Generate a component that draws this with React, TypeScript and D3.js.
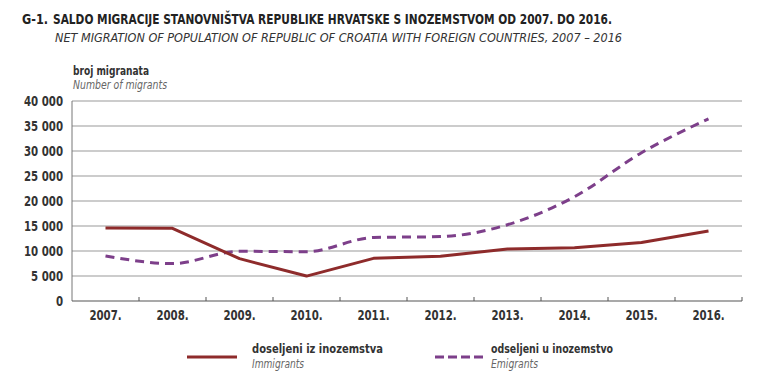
import React from 'react';
import * as d3 from 'd3';

const years = ['2007.', '2008.', '2009.', '2010.', '2011.', '2012.', '2013.', '2014.', '2015.', '2016.'];
const immigrants = [14622, 14541, 8468, 4985, 8534, 8959, 10378, 10638, 11706, 13985];
const emigrants = [9002, 7488, 9940, 9860, 12699, 12877, 15262, 20858, 29651, 36436];
const yTicks = [0, 5000, 10000, 15000, 20000, 25000, 30000, 35000, 40000];

const W = 764;
const H = 386;
const plot = { left: 72, right: 742, top: 101, bottom: 301 };
const font = '"Liberation Sans Narrow", "DejaVu Sans Condensed", "Liberation Sans", sans-serif';
const immColor = '#8e2b2b';
const emiColor = '#7d3f8a';
const squeeze = 0.84;

const fmt = (v: number) => (v >= 1000 ? `${Math.floor(v / 1000)} ${String(v % 1000).padStart(3, '0')}` : `${v}`);

export default function App() {
  const x = d3.scaleBand<string>().domain(years).range([plot.left, plot.right]);
  const y = d3.scaleLinear().domain([0, 40000]).range([plot.bottom, plot.top]);
  const cx = (i: number) => (x(years[i]) as number) + x.bandwidth() / 2;

  const immLine = d3
    .line<number>()
    .x((_, i) => cx(i))
    .y((d) => y(d));
  const emiLine = d3
    .line<number>()
    .x((_, i) => cx(i))
    .y((d) => y(d))
    .curve(d3.curveMonotoneX);

  const tickXs = years.map((yr) => (x(yr) as number) + x.bandwidth()).slice(0, -1);
  tickXs.push(plot.right);

  return (
    <svg width={W} height={H} style={{ position: 'absolute', left: 0, top: 0, background: '#fff' }} fontFamily={font}>
      <text x={22} y={24} fontSize={14} fontWeight="bold" fill="#222" textLength={26} lengthAdjust="spacingAndGlyphs">G-1.</text>
      <text x={53} y={24} fontSize={14} fontWeight="bold" fill="#222" textLength={559} lengthAdjust="spacingAndGlyphs">
        SALDO MIGRACIJE STANOVNIŠTVA REPUBLIKE HRVATSKE S INOZEMSTVOM OD 2007. DO 2016.
      </text>
      <text x={55} y={42} fontSize={13} fontStyle="italic" fill="#333" textLength={567} lengthAdjust="spacingAndGlyphs">
        NET MIGRATION OF POPULATION OF REPUBLIC OF CROATIA  WITH FOREIGN COUNTRIES, 2007 – 2016
      </text>
      <text x={73} y={75} fontSize={13} fontWeight="bold" fill="#333" textLength={76} lengthAdjust="spacingAndGlyphs">broj migranata</text>
      <text x={73} y={89} fontSize={12.5} fontStyle="italic" fill="#666" textLength={94} lengthAdjust="spacingAndGlyphs">Number of migrants</text>

      {yTicks.map((t) => (
        <g key={t}>
          {t > 0 && <line x1={plot.left} x2={plot.right} y1={y(t)} y2={y(t)} stroke="#9a9a9a" strokeWidth={1.2} />}
          <text
            transform={`translate(63,${y(t) + 5}) scale(${squeeze},1)`}
            fontSize={13.5}
            fontWeight="bold"
            fill="#333"
            textAnchor="end"
          >
            {fmt(t)}
          </text>
        </g>
      ))}
      <line x1={plot.left} x2={plot.left} y1={plot.top} y2={plot.bottom} stroke="#777" strokeWidth={1} />
      <line x1={plot.left} x2={plot.right} y1={plot.bottom} y2={plot.bottom} stroke="#555" strokeWidth={1.2} />
      {tickXs.map((tx, i) => (
        <line key={i} x1={tx} x2={tx} y1={plot.bottom} y2={plot.bottom - 4} stroke="#555" strokeWidth={1} />
      ))}
      {years.map((yr, i) => (
        <text
          key={yr}
          transform={`translate(${cx(i)},320) scale(${squeeze},1)`}
          fontSize={13.5}
          fontWeight="bold"
          fill="#333"
          textAnchor="middle"
        >
          {yr}
        </text>
      ))}

      <path d={emiLine(emigrants) as string} fill="none" stroke={emiColor} strokeWidth={3} strokeDasharray="9 6" />
      <path d={immLine(immigrants) as string} fill="none" stroke={immColor} strokeWidth={3} strokeLinejoin="round" />

      <line x1={187} x2={237} y1={357} y2={357} stroke={immColor} strokeWidth={3} />
      <text x={252} y={353} fontSize={12.5} fontWeight="bold" fill="#333" textLength={131} lengthAdjust="spacingAndGlyphs">doseljeni iz inozemstva</text>
      <text x={252} y={368} fontSize={12} fontStyle="italic" fill="#666" textLength={52} lengthAdjust="spacingAndGlyphs">Immigrants</text>

      <line x1={435} x2={483} y1={357} y2={357} stroke={emiColor} strokeWidth={3} strokeDasharray="9 4" />
      <text x={491} y={353} fontSize={12.5} fontWeight="bold" fill="#333" textLength={122} lengthAdjust="spacingAndGlyphs">odseljeni u inozemstvo</text>
      <text x={491} y={368} fontSize={12} fontStyle="italic" fill="#666" textLength={47} lengthAdjust="spacingAndGlyphs">Emigrants</text>
    </svg>
  );
}
